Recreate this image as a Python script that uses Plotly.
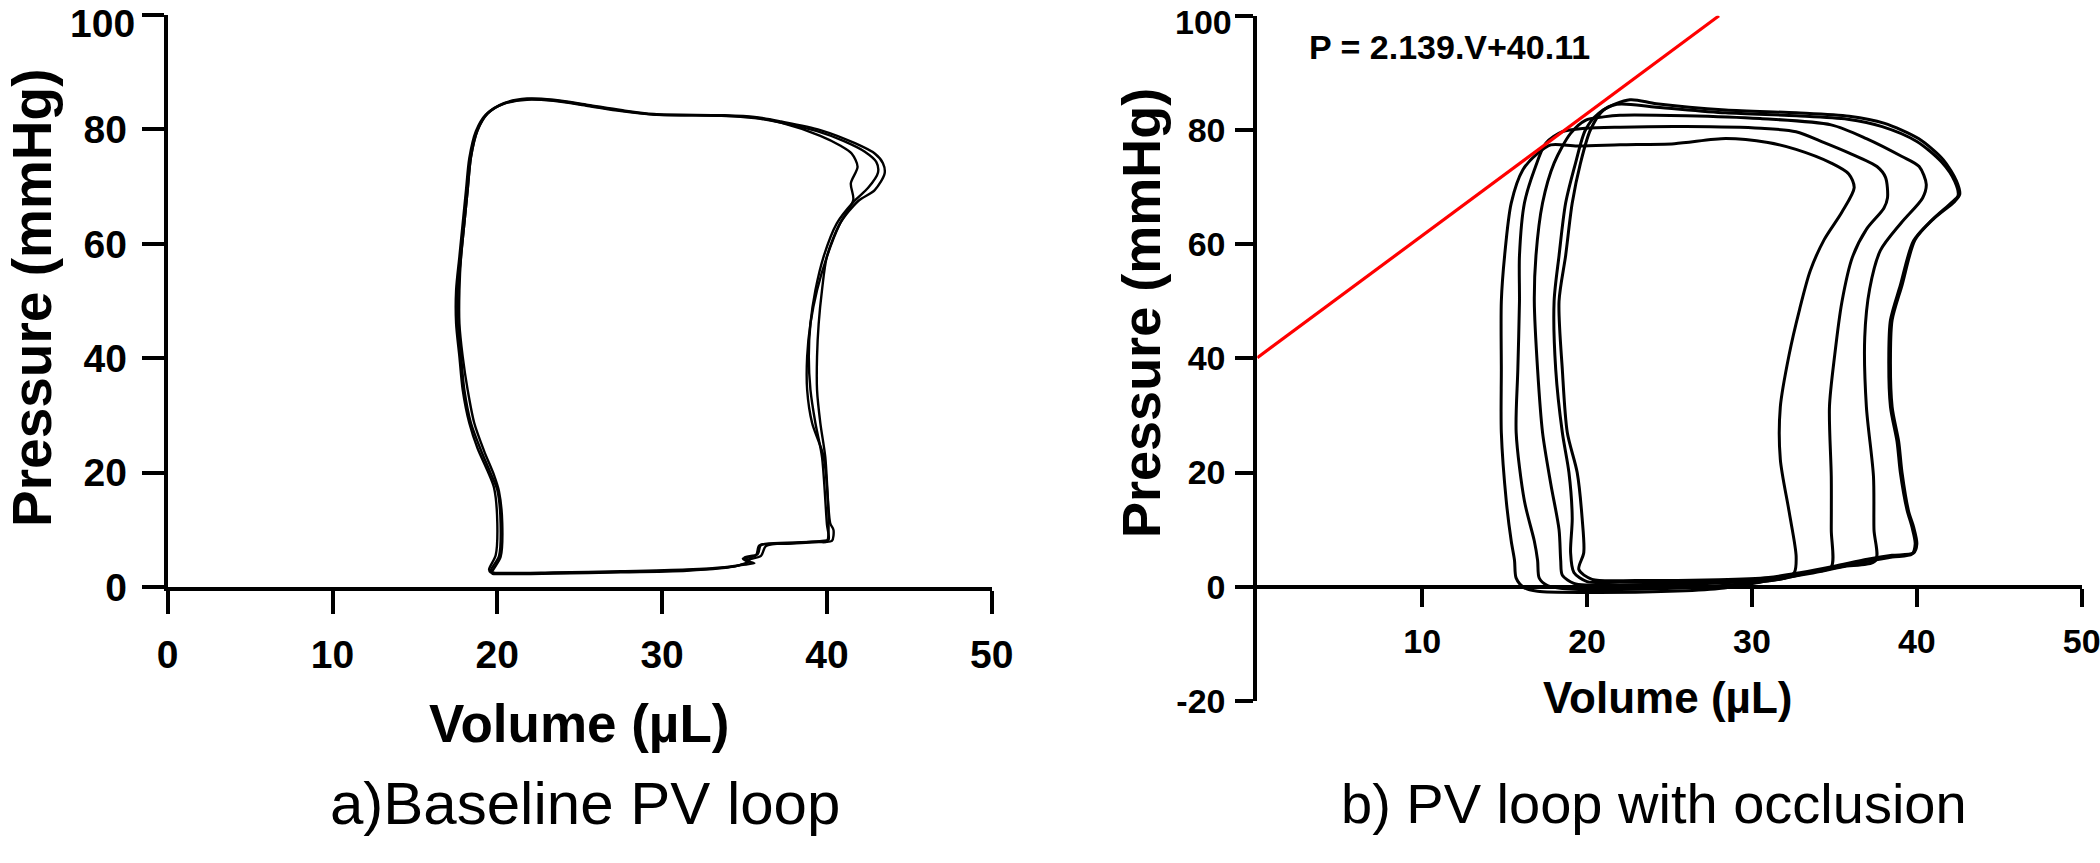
import plotly.graph_objects as go

W, H = 2100, 863

# ---------------- Data: panel a) baseline PV loops ----------------
a1_vol = [19.8, 20.4, 23.4, 27.5, 31.5, 33.6, 34.6, 35.3, 35.0, 35.8, 36.0, 37.6, 39.6, 40.3,
          40.4, 40.2, 39.9, 39.6, 39.4, 39.4, 39.5, 39.7, 40.0, 40.8, 41.9, 42.9, 43.5, 43.4,
          42.9, 41.7, 39.6, 37.2, 35.6, 33.6, 29.5, 27.5, 25.5, 23.4, 21.8, 20.4, 19.4, 18.8,
          18.4, 18.2, 18.0, 17.8, 17.6, 17.6, 17.8, 18.0, 18.4, 19.0, 19.6, 20.0, 20.2, 20.1,
          19.6, 19.8]
a1_prs = [2.5, 2.4, 2.5, 2.7, 3.0, 3.4, 3.8, 4.6, 5.2, 5.8, 7.4, 7.8, 8.0, 8.1,
          10.0, 11.2, 22.8, 28.7, 34.5, 40.3, 46.1, 51.9, 57.8, 63.6, 67.5, 69.4, 72.3, 74.1,
          75.8, 77.6, 79.9, 81.4, 82.2, 82.5, 82.7, 83.4, 84.3, 85.2, 85.4, 84.6, 82.8, 79.9,
          75.2, 69.4, 63.6, 57.8, 51.9, 46.1, 40.3, 34.5, 28.7, 24.0, 19.9, 17.0, 11.2, 5.4,
          2.9, 2.5]

a2_vol = [19.6, 20.3, 23.4, 27.5, 31.5, 33.8, 34.8, 35.6, 35.1, 36.0, 36.3, 37.8, 39.7, 40.1,
          40.0, 39.7, 39.3, 39.0, 38.9, 39.0, 39.3, 39.8, 40.6, 41.6, 42.5, 43.1, 43.0,
          42.3, 41.0, 39.4, 37.2, 35.6, 33.6, 29.5, 27.5, 25.5, 23.4, 21.8, 20.3, 19.3, 18.7,
          18.3, 18.1, 17.9, 17.7, 17.5, 17.5, 17.7, 17.9, 18.3, 18.8, 19.4, 19.8, 20.0, 19.9,
          19.5, 19.6]
a2_prs = [2.6, 2.5, 2.6, 2.8, 3.1, 3.5, 3.9, 4.2, 4.7, 5.5, 7.2, 7.7, 8.1, 8.3,
          11.0, 22.8, 28.7, 34.5, 40.3, 46.1, 51.9, 57.8, 63.6, 67.3, 69.8, 72.5, 74.3,
          76.1, 78.0, 79.7, 81.2, 82.0, 82.4, 82.6, 83.2, 84.1, 85.0, 85.2, 84.4, 82.6, 79.7,
          75.0, 69.4, 63.6, 57.8, 51.9, 46.1, 40.3, 34.5, 28.7, 24.3, 20.4, 17.4, 11.2, 5.6,
          3.1, 2.6]

a3_vol = [19.7, 20.3, 23.4, 27.5, 31.5, 33.5, 34.5, 35.2, 34.9, 35.7, 35.9, 37.5, 39.5, 40.0,
          40.1, 39.8, 39.1, 38.8, 38.8, 39.0, 39.4, 40.0, 40.8, 41.6, 41.45, 41.86, 41.5,
          40.8, 39.6, 37.2, 35.6, 33.6, 29.5, 27.5, 25.5, 23.4, 21.8, 20.4, 19.4, 18.8,
          18.4, 18.2, 18.0, 17.8, 17.7, 17.7, 17.9, 18.2, 18.6, 19.2, 19.8, 20.1, 20.3, 20.2,
          19.7, 19.7]
a3_prs = [2.4, 2.3, 2.4, 2.6, 2.9, 3.3, 3.7, 4.4, 5.0, 5.6, 7.3, 7.6, 7.9, 8.0,
          11.0, 22.8, 28.7, 34.5, 40.3, 46.1, 51.9, 57.8, 63.6, 67.7, 70.6, 73.5, 75.8,
          77.2, 78.9, 81.2, 82.1, 82.4, 82.6, 83.3, 84.2, 85.1, 85.3, 84.5, 82.7, 79.8,
          75.1, 69.4, 63.6, 57.8, 51.9, 46.1, 40.3, 34.5, 28.7, 23.8, 19.6, 16.8, 11.2, 5.3,
          2.8, 2.4]

# ---------------- Data: panel b) PV loops during occlusion ----------------
b1_vol = [20.3, 23.0, 28.0, 31.0, 33.0, 35.0, 37.0, 38.5, 39.8, 40.0, 39.8, 39.5, 39.1, 38.9,
          38.5, 38.4, 38.5, 39.1, 39.9, 41.0, 42.3, 42.6, 42.4, 41.6, 40.1, 38.0, 35.9, 32.7,
          28.4, 24.2, 22.6, 21.0, 20.2, 19.6, 19.1, 18.7, 18.3, 18.5, 18.8, 19.4, 19.7, 19.8,
          19.5, 20.3]
b1_prs = [1.3, 1.1, 1.2, 1.6, 2.5, 3.6, 4.8, 5.5, 5.9, 7.5, 10.5, 13.2, 20.0, 25.4,
          31.5, 40.6, 46.7, 52.8, 60.8, 64.4, 67.5, 68.7, 71.1, 74.8, 78.5, 81.2, 82.4, 83.0,
          83.5, 84.6, 85.3, 83.5, 80.0, 74.2, 67.2, 58.0, 50.0, 38.0, 27.0, 20.0, 12.0, 6.0,
          3.0, 1.3]

b2_vol = [20.0, 22.0, 27.0, 30.0, 32.0, 34.5, 36.8, 38.5, 39.7, 39.9, 39.7, 39.4, 39.0, 38.8,
          38.4, 38.3, 38.4, 39.0, 39.8, 40.9, 42.1, 42.5, 42.3, 41.5, 40.0, 37.9, 35.8, 32.7,
          28.4, 24.2, 21.8, 20.7, 19.9, 19.3, 18.7, 18.3, 18.0, 18.1, 18.5, 18.9, 19.1, 19.0,
          19.2, 20.0]
b2_prs = [0.9, 0.8, 0.8, 1.1, 1.8, 3.0, 4.3, 5.2, 5.7, 7.5, 10.5, 13.5, 20.0, 25.4,
          31.5, 40.6, 46.7, 52.8, 60.6, 64.2, 67.3, 68.5, 71.0, 74.4, 78.0, 80.6, 81.9, 82.5,
          83.0, 84.0, 84.5, 82.9, 80.0, 74.2, 67.2, 58.0, 50.0, 38.0, 27.0, 20.0, 12.0, 6.0,
          2.5, 0.9]

b3_vol = [19.2, 20.0, 25.0, 29.0, 31.5, 33.5, 35.5, 37.5, 37.4, 37.37, 36.94, 36.84, 37.14,
          37.79, 39.07, 40.35, 40.57, 40.14, 39.07, 36.94, 34.8, 30.5, 26.0, 22.0, 21.0,
          19.9, 19.0, 18.0, 17.3, 16.9, 16.8, 17.0, 17.3, 17.8, 18.3, 18.4, 18.5, 19.2]
b3_prs = [0.6, 0.3, 0.4, 0.8, 1.4, 2.3, 3.5, 4.6, 10.0, 19.3, 31.5, 43.7, 52.2,
          58.9, 63.8, 68.1, 70.5, 73.6, 75.4, 78.5, 80.9, 82.0, 82.5, 82.6, 82.3,
          81.7, 79.4, 74.2, 67.2, 58.0, 50.0, 38.0, 27.0, 18.0, 10.0, 4.6, 2.0, 0.6]

b4_vol = [17.6, 18.5, 22.0, 27.0, 30.0, 32.0, 33.5, 34.8, 34.81, 34.81, 34.7, 35.02, 35.45,
          36.09, 36.94, 38.0, 38.22, 38.1, 37.58, 35.87, 34.38, 32.67, 30.55, 26.0, 22.0,
          19.9, 18.5, 17.5, 16.8, 16.2, 15.9, 15.9, 15.8, 15.7, 16.2, 16.8, 17.0, 17.1, 17.6]
b4_prs = [0.2, -0.3, -0.5, 0.0, 0.7, 1.5, 2.5, 3.4, 10.0, 19.3, 31.5, 40.6, 49.8,
          57.7, 62.6, 66.3, 68.1, 71.7, 73.6, 76.0, 77.8, 79.7, 80.3, 80.6, 80.5,
          80.3, 79.7, 77.7, 73.0, 67.2, 58.0, 50.0, 38.0, 27.0, 15.0, 8.0, 4.6, 1.5, 0.2]

b5_vol = [16.2, 17.0, 20.0, 25.0, 28.0, 30.5, 32.0, 32.57, 32.68, 32.25, 31.72, 31.72, 32.25,
          32.89, 33.53, 34.38, 35.45, 36.2, 35.87, 34.81, 32.67, 30.97, 28.41, 25.3, 22.0,
          19.4, 17.8, 17.0, 16.1, 15.4, 15.0, 14.8, 14.8, 14.8, 15.1, 15.4, 15.6, 15.7, 16.2]
b5_prs = [-0.2, -0.8, -1.0, -0.8, -0.3, 0.8, 1.5, 2.5, 5.3, 13.2, 22.3, 31.5, 40.6,
          48.6, 55.3, 60.8, 65.6, 69.9, 72.3, 74.2, 76.6, 77.8, 78.5, 77.6, 77.4,
          77.2, 77.4, 75.9, 73.0, 67.2, 58.0, 50.0, 38.0, 27.0, 15.0, 8.0, 4.6, 1.5, -0.2]

# End-systolic pressure-volume relation P = 2.139*V + 40.11 (end points)
espvr_vol = [0.0, 28.0]
espvr_prs = [40.11, 100.0]
espvr_label = "P = 2.139.V+40.11"

a_xticks = [0, 10, 20, 30, 40, 50]
a_yticks = [0, 20, 40, 60, 80, 100]
b_xticks = [10, 20, 30, 40, 50]
b_yticks = [-20, 0, 20, 40, 60, 80, 100]
b_yticklabels = ["-20", "0", "20", "40", "60", "80", "100"]

x_title = "Volume (µL)"
y_title = "Pressure (mmHg)"
caption_a = "a)Baseline PV loop"
caption_b = "b) PV loop with occlusion"

# ---------------- Figure ----------------
def px(x):
    return x / W

def py(y):
    return 1 - y / H

fig = go.Figure()

for v, p in [(a1_vol, a1_prs), (a2_vol, a2_prs), (a3_vol, a3_prs)]:
    fig.add_trace(go.Scatter(x=v, y=p, mode="lines", xaxis="x", yaxis="y",
                             line=dict(color="black", width=2.4, shape="spline", smoothing=0.8),
                             showlegend=False, hoverinfo="skip"))

for v, p in [(b1_vol, b1_prs), (b2_vol, b2_prs), (b3_vol, b3_prs), (b4_vol, b4_prs), (b5_vol, b5_prs)]:
    fig.add_trace(go.Scatter(x=v, y=p, mode="lines", xaxis="x2", yaxis="y2",
                             line=dict(color="black", width=3, shape="spline", smoothing=0.8),
                             showlegend=False, hoverinfo="skip"))

fig.add_trace(go.Scatter(x=espvr_vol, y=espvr_prs, mode="lines", xaxis="x2", yaxis="y2",
                         line=dict(color="#ff0000", width=3.2),
                         showlegend=False, hoverinfo="skip", cliponaxis=False))

FONT = "Liberation Sans, Arial, Helvetica, sans-serif"

axis_common = dict(showgrid=False, zeroline=False, showline=True, linecolor="black",
                   ticks="outside", tickcolor="black", fixedrange=True, automargin=False,
                   ticklabeloverflow="allow")

# the top (100) tick label sits a little lower than its tick in the original; it is drawn
# as an annotation anchored on the axis value so it stays inside the page
a_yticktext = [str(t) if t != a_yticks[-1] else "" for t in a_yticks]
b_yticktext = [lab if t != b_yticks[-1] else "" for t, lab in zip(b_yticks, b_yticklabels)]

fig.update_layout(
    template="none",
    width=W, height=H, autosize=False,
    margin=dict(l=0, r=0, t=0, b=0, pad=0),
    paper_bgcolor="white", plot_bgcolor="white",
    font=dict(family=FONT, color="black"),
    xaxis=dict(**axis_common, domain=[px(167.7), px(991.9)], range=[0, 50.01], anchor="y",
               tickvals=a_xticks, linewidth=4, tickwidth=4, ticklen=23, ticklabelstandoff=7,
               tickfont=dict(size=39, family=FONT, weight="bold", color="black")),
    yaxis=dict(**axis_common, domain=[py(587.3), py(14.9)], range=[0, 100.02], anchor="x",
               tickvals=a_yticks, ticktext=a_yticktext, linewidth=4, tickwidth=4, ticklen=22,
               ticklabelstandoff=7,
               tickfont=dict(size=39, family=FONT, weight="bold", color="black")),
    xaxis2=dict(**axis_common, domain=[px(1257.3), px(2081.9)], range=[0, 50.01], anchor="free",
                position=py(586.7), tickvals=b_xticks, linewidth=4, tickwidth=4, ticklen=18,
                ticklabelstandoff=5,
                tickfont=dict(size=34, family=FONT, weight="bold", color="black")),
    yaxis2=dict(**axis_common, domain=[py(700.9), py(15.7)], range=[-20, 100.02], anchor="x2",
                tickvals=b_yticks, ticktext=b_yticktext, linewidth=4, tickwidth=4, ticklen=18,
                ticklabelstandoff=3,
                tickfont=dict(size=34, family=FONT, weight="bold", color="black")),
)

ann = []
# top tick labels
ann.append(dict(text=str(a_yticks[-1]), x=a_xticks[0], y=a_yticks[-1], xref="x", yref="y",
                showarrow=False, xanchor="right", yanchor="middle", xshift=-32, yshift=-8,
                borderpad=0, font=dict(size=39, family=FONT, weight="bold", color="black")))
ann.append(dict(text=b_yticklabels[-1], x=0, y=b_yticks[-1], xref="x2", yref="y2",
                showarrow=False, xanchor="right", yanchor="middle", xshift=-24, yshift=-6,
                borderpad=0, font=dict(size=34, family=FONT, weight="bold", color="black")))
ann.append(dict(text=y_title, x=px(32), y=py(298), xref="paper", yref="paper", showarrow=False,
                textangle=-90, font=dict(size=55, family=FONT, weight="bold", color="black"),
                xanchor="center", yanchor="middle"))
ann.append(dict(text=y_title, x=px(1141), y=py(313), xref="paper", yref="paper", showarrow=False,
                textangle=-90, font=dict(size=54, family=FONT, weight="bold", color="black"),
                xanchor="center", yanchor="middle"))
ann.append(dict(text=x_title, x=px(579), y=py(723), xref="paper", yref="paper", showarrow=False,
                font=dict(size=53, family=FONT, weight="bold", color="black"),
                xanchor="center", yanchor="middle"))
ann.append(dict(text=x_title, x=px(1667), y=py(697), xref="paper", yref="paper", showarrow=False,
                font=dict(size=44, family=FONT, weight="bold", color="black"),
                xanchor="center", yanchor="middle"))
ann.append(dict(text=caption_a, x=px(585), y=py(803), xref="paper", yref="paper", showarrow=False,
                font=dict(size=60, family=FONT, color="black"),
                xanchor="center", yanchor="middle"))
ann.append(dict(text=caption_b, x=px(1654), y=py(803), xref="paper", yref="paper", showarrow=False,
                font=dict(size=56, family=FONT, color="black"),
                xanchor="center", yanchor="middle"))
ann.append(dict(text=espvr_label, x=px(1307), y=py(47), xref="paper", yref="paper", showarrow=False,
                font=dict(size=34, family=FONT, weight="bold", color="black"),
                xanchor="left", yanchor="middle"))
fig.update_layout(annotations=ann)

fig.write_html("out.html", config={"displayModeBar": False},
               post_script="document.body.style.margin='0px';document.body.style.padding='0px';document.body.style.overflow='hidden';")
